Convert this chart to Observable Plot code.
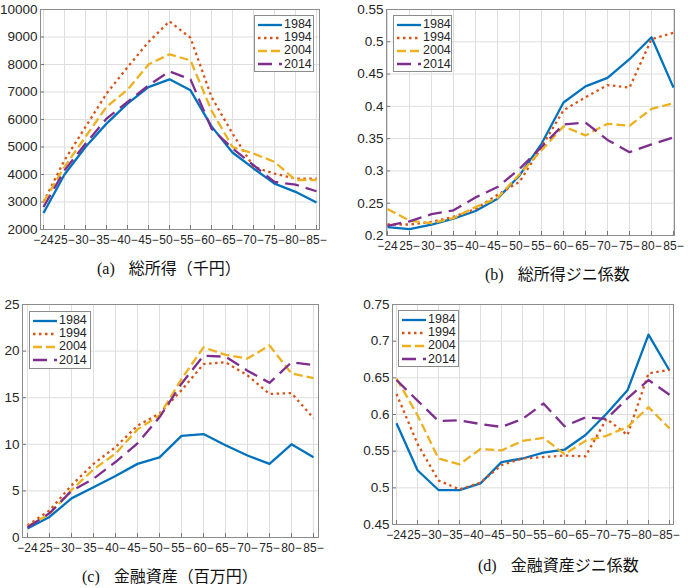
<!DOCTYPE html>
<html>
<head>
<meta charset="utf-8">
<script src="https://cdn.jsdelivr.net/npm/d3@7"></script>
<script src="https://cdn.jsdelivr.net/npm/@observablehq/plot@0.6"></script>
<style>
  html, body { margin: 0; padding: 0; background: #fff; }
  #root { position: relative; width: 688px; height: 588px; background: #fff; overflow: hidden; }
  .panel { position: absolute; }
  .legend { position: absolute; background: #fff; border: 1px solid #8c8c8c; box-sizing: border-box;
            font-family: "Liberation Sans", Arial, sans-serif; font-size: 12.5px; color: #262626; padding: 2px 1px 0 2px; white-space: nowrap; }
  .legend .row { display: flex; align-items: center; height: 13.2px; line-height: 13px; }
  .legend svg { display: block; margin-right: 1px; flex: none; }
  .caption { position: absolute; font-family: "Liberation Serif", "Noto Sans CJK JP", serif; font-size: 16px;
             color: #111; white-space: nowrap; line-height: 20px; }
  .caption .lab { margin-right: 14px; }
  .caption .txt { font-family: "Noto Sans CJK JP", sans-serif; }
</style>
</head>
<body>
<div id="root"></div>
<script>
// ---- data ----
const ageLabels = ["\u221224","25\u2212","30\u2212","35\u2212","40\u2212","45\u2212","50\u2212","55\u2212","60\u2212","65\u2212","70\u2212","75\u2212","80\u2212","85\u2212"];
const seriesNames = ["1984","1994","2004","2014"];
const seriesColors = ["#0072BD","#D95319","#EDB120","#7E2F8E"];
const seriesDash = [null,"2.5 3.5","9 4","14 7"];

// (a) total income (thousand yen)
const incomeA = [
  [2600,4000,5000,5850,6580,7180,7460,7060,5750,4800,4220,3670,3370,2980],
  [3000,4520,5730,6940,7900,8820,9570,8970,6820,5490,4280,4030,3850,3850],
  [3000,4280,5370,6460,7080,8000,8370,8150,6330,5000,4760,4460,3800,3800],
  [2820,4150,5120,6030,6640,7240,7750,7460,5670,4950,4340,3730,3630,3390]
];
// (b) income Gini
const giniB = [
  [0.213,0.210,0.217,0.226,0.238,0.257,0.293,0.342,0.406,0.431,0.444,0.473,0.507,0.429],
  [0.217,0.217,0.221,0.229,0.241,0.263,0.283,0.337,0.394,0.414,0.433,0.429,0.504,0.514],
  [0.241,0.223,0.219,0.227,0.244,0.258,0.295,0.332,0.369,0.355,0.373,0.370,0.396,0.405],
  [0.215,0.222,0.233,0.239,0.259,0.275,0.303,0.337,0.372,0.375,0.348,0.329,0.341,0.352]
];
// (c) financial assets (million yen)
const assetsC = [
  [0.96,2.2,4.2,5.4,6.6,7.9,8.6,10.9,11.1,9.9,8.8,7.9,10.0,8.6],
  [1.3,2.9,5.6,7.9,9.7,12.0,13.3,15.8,18.6,18.8,17.4,15.4,15.5,12.8],
  [1.2,2.5,5.1,7.3,9.0,11.6,13.1,17.0,20.4,19.6,19.2,20.6,17.6,17.1],
  [1.1,2.6,5.0,6.3,8.1,10.1,12.9,16.5,19.5,19.4,17.9,16.6,18.8,18.5]
];
// (d) financial assets Gini
const giniD = [
  [0.588,0.524,0.497,0.497,0.506,0.535,0.540,0.548,0.552,0.572,0.601,0.633,0.709,0.660],
  [0.628,0.560,0.510,0.498,0.507,0.531,0.540,0.542,0.544,0.543,0.594,0.572,0.656,0.661],
  [0.649,0.599,0.540,0.532,0.553,0.551,0.564,0.568,0.546,0.564,0.571,0.583,0.610,0.581],
  [0.647,0.619,0.591,0.592,0.587,0.583,0.594,0.615,0.584,0.596,0.594,0.622,0.647,0.627]
];

const ticksA = [2000,3000,4000,5000,6000,7000,8000,9000,10000];
const ticksB = [0.2,0.25,0.3,0.35,0.4,0.45,0.5,0.55];
const ticksC = [0,5,10,15,20,25];
const ticksD = [0.45,0.5,0.55,0.6,0.65,0.7,0.75];

const captionLabels = ["(a)","(b)","(c)","(d)"];
const captionTexts = ["総所得（千円）","総所得ジニ係数","金融資産（百万円）","金融資産ジニ係数"];

// ---- layout (styles only) ----
const panels = [
  {values: incomeA, ticks: ticksA, left: 0,   top: 0,   width: 330, height: 255, ml: 40, mr: 11, mt: 9,  mb: 26,
   legend: {left: 254, top: 15, width: 60, height: 57}, cap: {left: 97, top: 257}},
  {values: giniB,   ticks: ticksB, left: 343, top: 0,   width: 345, height: 260, ml: 43, mr: 14, mt: 9,  mb: 25,
   legend: {left: 393, top: 15, width: 59, height: 57}, cap: {left: 485, top: 263}},
  {values: assetsC, ticks: ticksC, left: 0,   top: 290, width: 330, height: 270, ml: 22, mr: 12, mt: 14, mb: 23,
   legend: {left: 29, top: 311, width: 62, height: 58}, cap: {left: 82, top: 565}},
  {values: giniD,   ticks: ticksD, left: 343, top: 290, width: 345, height: 258, ml: 49, mr: 15, mt: 14, mb: 24,
   legend: {left: 398, top: 310, width: 61, height: 57}, cap: {left: 478, top: 554}}
];

const root = document.getElementById("root");
const fmt = d => String(+d.toFixed(2));

panels.forEach((p, k) => {
  const rows = [];
  seriesNames.forEach((s, i) => ageLabels.forEach((a, j) => rows.push({age: a, v: p.values[i][j], s})));
  const innerH = p.height - p.mt - p.mb;
  const lineMarks = seriesNames.map((s, i) => Plot.line(rows.filter(r => r.s === s), {
    x: "age", y: "v", stroke: seriesColors[i], strokeWidth: 2.3,
    strokeDasharray: seriesDash[i] || undefined, strokeLinejoin: "round", strokeLinecap: "butt"
  }));
  const chart = Plot.plot({
    width: p.width, height: p.height,
    marginLeft: p.ml, marginRight: p.mr, marginTop: p.mt, marginBottom: p.mb,
    style: {fontFamily: "'Liberation Sans', Arial, sans-serif", fontSize: "13.5px", color: "#262626", background: "transparent"},
    x: {type: "point", domain: ageLabels, padding: 0, label: null},
    y: {domain: [p.ticks[0], p.ticks[p.ticks.length - 1]], label: null},
    marks: [
      Plot.gridX(ageLabels, {stroke: "#dedede", strokeOpacity: 1, strokeWidth: 1}),
      Plot.gridY(p.ticks, {stroke: "#dedede", strokeOpacity: 1, strokeWidth: 1}),
      Plot.tickX(ageLabels, {x: d => d, stroke: "#777", strokeWidth: 1, insetTop: innerH - 4}),
      Plot.tickY(p.ticks, {y: d => d, stroke: "#777", strokeWidth: 1, insetRight: (p.width - p.ml - p.mr) - 4}),
      ...lineMarks,
      Plot.frame({stroke: "#8c8c8c", strokeWidth: 1}),
      Plot.axisX({tickSize: 0, tickPadding: 5.5, fontSize: 12, fill: "#262626", label: null}),
      Plot.axisY(p.ticks, {tickSize: 0, tickPadding: 3, tickFormat: fmt, fill: "#262626", label: null})
    ]
  });
  chart.classList.add("panel");
  chart.style.left = p.left + "px";
  chart.style.top = p.top + "px";
  root.appendChild(chart);

  // legend
  const lg = document.createElement("div");
  lg.className = "legend";
  Object.assign(lg.style, {left: p.legend.left + "px", top: p.legend.top + "px", width: p.legend.width + "px", height: p.legend.height + "px"});
  seriesNames.forEach((s, i) => {
    const row = document.createElement("div");
    row.className = "row";
    const svg = d3.create("svg").attr("width", 26).attr("height", 12);
    svg.append("line").attr("x1", 1).attr("x2", 25).attr("y1", 6).attr("y2", 6)
      .attr("stroke", seriesColors[i]).attr("stroke-width", 2.3)
      .attr("stroke-dasharray", seriesDash[i]);
    row.appendChild(svg.node());
    const t = document.createElement("span");
    t.textContent = s;
    row.appendChild(t);
    lg.appendChild(row);
  });
  root.appendChild(lg);

  // caption
  const cap = document.createElement("div");
  cap.className = "caption";
  cap.style.left = p.cap.left + "px";
  cap.style.top = p.cap.top + "px";
  cap.innerHTML = `<span class="lab">${captionLabels[k]}</span><span class="txt">${captionTexts[k]}</span>`;
  root.appendChild(cap);
});
</script>
</body>
</html>
